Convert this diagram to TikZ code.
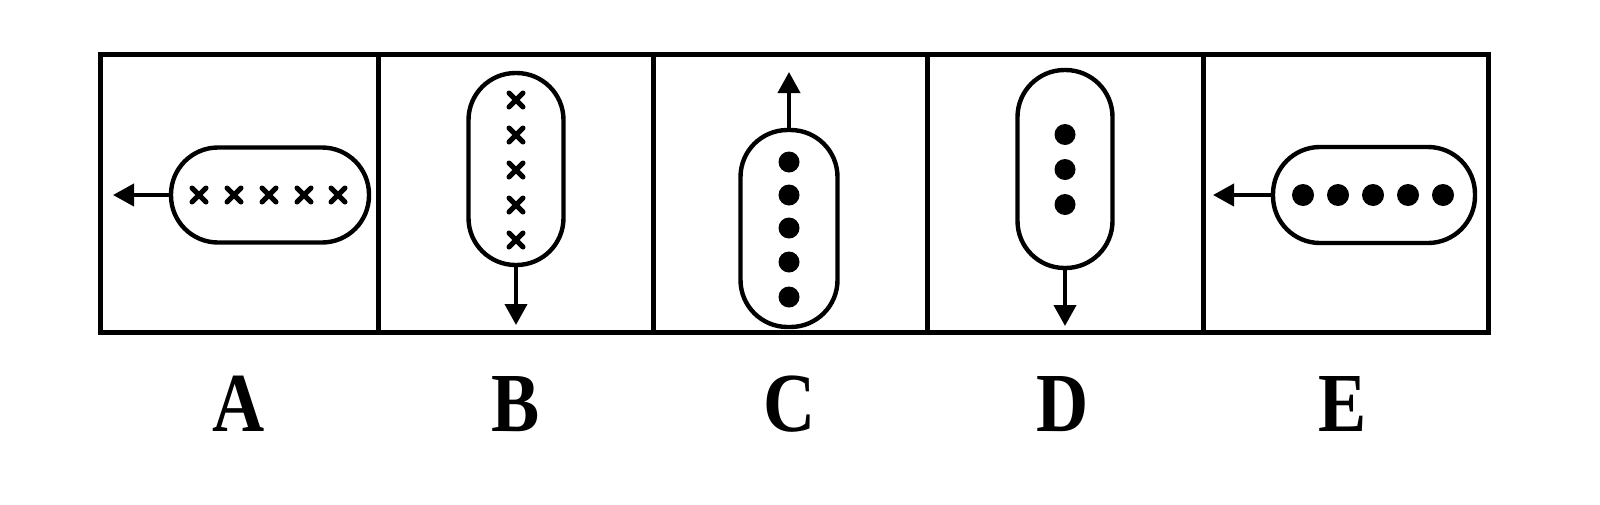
\documentclass[tikz,border=0pt]{standalone}
\usepackage{fontspec}
\setmainfont{Liberation Serif}
\usetikzlibrary{arrows.meta}
\begin{document}
\begin{tikzpicture}[x=1pt,y=-1pt,
  frame/.style={line width=5pt},
  pill/.style={draw,line width=4.4pt,inner sep=0pt,rounded corners=47pt},
  hpill/.style={pill,minimum width=198pt,minimum height=95pt},
  vpill/.style={pill,minimum width=95pt,minimum height=196pt},
  arr/.style={line width=4pt,-{Triangle[length=21pt,width=22pt]}},
  cross/.style={line width=5pt,line cap=round},
  dot/.style={circle,fill=black,inner sep=0pt,minimum size=21pt},
  lab/.style={inner sep=0pt,font=\fontsize{84}{84}\selectfont\bfseries,xscale=0.86}]
\useasboundingbox (0,0) rectangle (1600,504);
% frame
\draw[frame] (100,54) rectangle (1488,332);
\foreach \x in {378,653,927,1203} \draw[frame] (\x,54) -- (\x,332);
% A
\node[hpill] (pA) at (270,195) {};
\coordinate (tA) at (113,195);
\draw[arr] (pA.west) -- (tA);
\foreach \x in {199,234,269,304,338}
  \draw[cross] (\x-7,188) -- (\x+7,202) (\x-7,202) -- (\x+7,188);
% B
\node[vpill,minimum height=192pt] (pB) at (516,169) {};
\coordinate (tB) at (516,325);
\draw[arr] (pB.south) -- (tB);
\foreach \y in {100,135,170,205,240}
  \draw[cross] (509,\y-7) -- (523,\y+7) (509,\y+7) -- (523,\y-7);
% C
\node[vpill,minimum width=97pt,minimum height=197pt] (pC) at (789,228.5) {};
\coordinate (tC) at (789,72);
\draw[arr] (pC.north) -- (tC);
\foreach \y in {162,195,228,262,297} \node[dot] at (789,\y) {};
% D
\node[vpill,minimum height=198pt] (pD) at (1065,169) {};
\coordinate (tD) at (1065,326);
\draw[arr] (pD.south) -- (tD);
\foreach \y in {134.5,169.5,204.5} \node[dot] at (1065,\y) {};
% E
\node[hpill,minimum width=202pt,minimum height=96pt] (pE) at (1374,195) {};
\coordinate (tE) at (1213,195);
\draw[arr] (pE.west) -- (tE);
\foreach \x in {1303,1338,1373,1408,1443} \node[dot,minimum size=22pt] at (\x,195) {};
% labels
\node[lab] (lA) at (239,404) {A};
\node[lab] (lB) at (516,404) {B};
\node[lab] (lC) at (790,404) {C};
\node[lab] (lD) at (1063,404) {D};
\node[lab] (lE) at (1343,404) {E};
\end{tikzpicture}
\end{document}
